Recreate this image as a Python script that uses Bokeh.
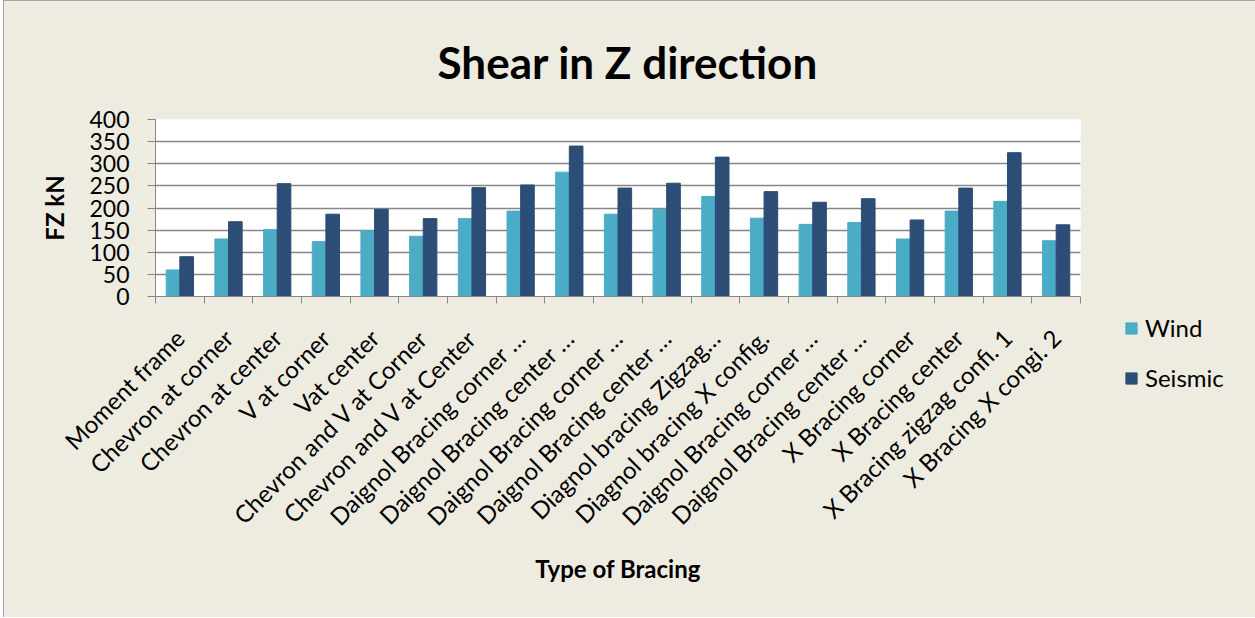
from bokeh.plotting import figure
from bokeh.models import (Range1d, FixedTicker, ColumnDataSource, Legend, LegendItem)
from bokeh.transform import dodge
from bokeh.embed import file_html
from bokeh.resources import INLINE
import math

# ---- data ----
categories = [
    "Moment frame",
    "Chevron at corner",
    "Chevron at center",
    "V at corner",
    "Vat center",
    "Chevron and V at Corner",
    "Chevron and V at Center",
    "Daignol Bracing corner \u2026",
    "Daignol Bracing center \u2026",
    "Daignol Bracing corner \u2026",
    "Daignol Bracing center \u2026",
    "Diagnol bracing Zigzag\u2026",
    "Diagnol bracing X config.",
    "Daignol Bracing corner \u2026",
    "Daignol Bracing center \u2026",
    "X Bracing corner",
    "X Bracing center",
    "X Bracing zigzag confi. 1",
    "X Bracing X congi. 2",
]
wind = [60, 130, 151, 124, 148, 136, 176, 193, 281, 186, 197, 226, 177, 163, 167, 130, 193, 215, 126]
seismic = [90, 169, 255, 186, 197, 176, 246, 252, 340, 245, 256, 315, 237, 213, 221, 173, 245, 325, 162]
y_ticks = [0, 50, 100, 150, 200, 250, 300, 350, 400]
series_names = ["Wind", "Seismic"]

WIND_C = "#4BACC6"
SEIS_C = "#2C4D75"
BG = "#EEECE1"
GRID = "#878787"
FONT = "Lato"

n = len(categories)
centers = [i + 0.5 for i in range(n)]
src = ColumnDataSource(dict(x=centers, wind=wind, seismic=seismic))

p = figure(
    output_backend="svg", toolbar_location=None,
    frame_width=925, frame_height=177,
    min_border_left=152, min_border_right=173,
    min_border_top=119, min_border_bottom=321,
    x_range=Range1d(0, n), y_range=Range1d(0, 400),
    background_fill_color="white", border_fill_color=BG,
    outline_line_color=None,
)
p.styles = {"outline": "2px solid #8c8c8c", "outline-offset": "-2px",
            "margin-left": "3px"}

bw = 0.28
r1 = p.vbar(x=dodge("x", -bw / 2, range=p.x_range), top="wind", width=bw, source=src,
            fill_color=WIND_C, line_color=WIND_C)
r2 = p.vbar(x=dodge("x", bw / 2, range=p.x_range), top="seismic", width=bw, source=src,
            fill_color=SEIS_C, line_color=SEIS_C)

# title
p.title.text = "Shear in Z direction"
p.title.text_font = FONT
p.title.text_font_style = "bold"
p.title.text_font_size = "44px"
p.title.align = "left"
p.title.offset = 282
p.title.standoff = 60
p.title.vertical_align = "top"
p.title.text_color = "black"

# y axis
ya = p.yaxis[0]
ya.ticker = FixedTicker(ticks=y_ticks, minor_ticks=[])
ya.axis_line_color = GRID
ya.major_tick_line_color = GRID
ya.major_tick_out = 8
ya.major_tick_in = 0
ya.minor_tick_line_color = None
ya.major_label_text_font = FONT
ya.major_label_text_font_size = "23px"
ya.major_label_text_color = "black"
ya.major_label_standoff = 18
ya.axis_label = "FZ kN"
ya.axis_label_text_font = FONT
ya.axis_label_text_font_style = "bold"
ya.axis_label_text_font_size = "24px"
ya.axis_label_text_color = "black"
ya.axis_label_standoff = 17

# x axis
xa = p.xaxis[0]
xa.ticker = FixedTicker(ticks=centers, minor_ticks=list(range(n + 1)))
xa.major_label_overrides = {c: lab for c, lab in zip(centers, categories)}
xa.major_label_orientation = math.pi / 4
xa.major_tick_line_color = None
xa.minor_tick_line_color = GRID
xa.minor_tick_out = 7
xa.minor_tick_in = 0
xa.axis_line_color = GRID
xa.major_label_text_font = FONT
xa.major_label_text_font_size = "24px"
xa.major_label_text_color = "black"
xa.major_label_standoff = 30
xa.axis_label = "Type of Bracing"
xa.axis_label_text_font = FONT
xa.axis_label_text_font_style = "bold"
xa.axis_label_text_font_size = "24px"
xa.axis_label_text_color = "black"
xa.axis_label_standoff = 10

p.xgrid.grid_line_color = None
p.ygrid.grid_line_color = GRID
p.ygrid.grid_line_width = 1.5

legend = Legend(
    items=[LegendItem(label=series_names[0], renderers=[r1]),
           LegendItem(label=series_names[1], renderers=[r2])],
    location=(44, -96),
    glyph_width=14, glyph_height=14,
    label_text_font=FONT, label_text_font_size="24px", label_text_color="black",
    label_standoff=7, label_height=28, spacing=21,
    padding=0, margin=0,
    border_line_color=None, background_fill_alpha=0,
)
p.add_layout(legend, "right")

open("out.html", "w").write(file_html(p, INLINE))
